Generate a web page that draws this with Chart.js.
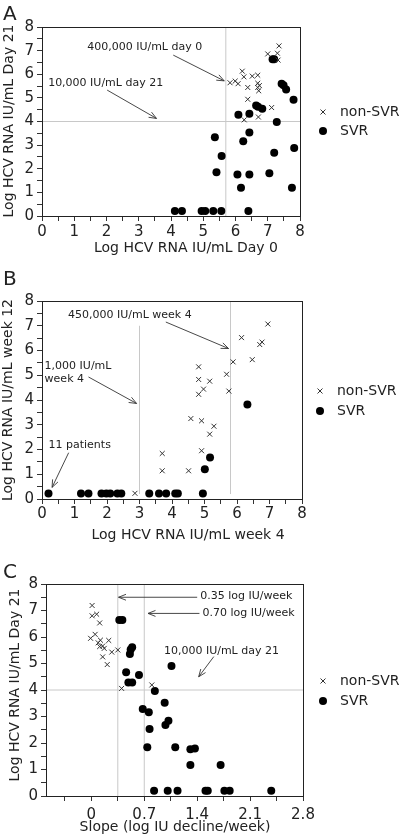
<!DOCTYPE html>
<html>
<head>
<meta charset="utf-8">
<script src="https://cdn.jsdelivr.net/npm/chart.js@4.4.1/dist/chart.umd.min.js"></script>
<style>
  body { margin: 0; background: #fff; width: 400px; height: 840px; overflow: hidden; position: relative; font-family: "DejaVu Sans", sans-serif; }
  .panel { position: absolute; left: 0; width: 400px; height: 280px; }
  .letter { position: absolute; left: 3px; font-size: 20px; line-height: 20px; color: #222; }
</style>
</head>
<body>
<div class="panel" style="top:0"><canvas id="chartA" width="400" height="280"></canvas></div>
<div class="panel" style="top:280px"><canvas id="chartB" width="400" height="280"></canvas></div>
<div class="panel" style="top:560px"><canvas id="chartC" width="400" height="280"></canvas></div>
<div class="letter" style="top:3px">A</div>
<div class="letter" style="top:268px">B</div>
<div class="letter" style="top:561px">C</div>

<script>
const FONT = '"DejaVu Sans", sans-serif';

// ================= DATA =================
// tick values (log axes every 0.5, labels on whole numbers)
const logTicks = [0, 0.5, 1, 1.5, 2, 2.5, 3, 3.5, 4, 4.5, 5, 5.5, 6, 6.5, 7, 7.5, 8];
const logLabels = [0, 1, 2, 3, 4, 5, 6, 7, 8];
const slopeTicks = [-0.35, 0, 0.35, 0.7, 1.05, 1.4, 1.75, 2.1, 2.45, 2.8];
const slopeLabels = [0, 0.7, 1.4, 2.1, 2.8];

// panel A: day 0 vs day 21
const aNonSvrX = [5.83, 5.99, 6.08, 6.21, 6.26, 6.38, 6.38, 6.27, 6.52, 6.69, 6.69, 6.74, 6.69, 6.72, 6.71, 7.00, 7.12, 7.30, 7.35, 7.32];
const aNonSvrY = [5.64, 5.71, 5.60, 6.13, 5.89, 5.44, 4.94, 4.07, 5.92, 5.96, 5.62, 5.52, 5.44, 5.30, 4.19, 6.86, 4.59, 6.89, 7.20, 6.60];
const aSvrX = [7.15, 7.20, 7.43, 7.49, 7.57, 7.80, 6.64, 6.70, 6.83, 6.09, 6.43, 7.28, 5.36, 6.43, 6.24, 5.57, 7.20, 7.82, 5.41, 6.06, 6.43, 7.05, 6.17, 7.75, 4.12, 4.34, 4.95, 5.06, 5.31, 5.56, 6.40];
const aSvrY = [6.64, 6.64, 5.60, 5.53, 5.35, 4.92, 4.68, 4.62, 4.54, 4.29, 4.33, 3.98, 3.33, 3.53, 3.16, 2.54, 2.68, 2.88, 1.85, 1.76, 1.76, 1.81, 1.20, 1.20, 0.21, 0.21, 0.21, 0.21, 0.21, 0.21, 0.21];
const aCutDay0 = [5.7];
const aCutDay21 = [4];

// panel B: week 4 vs week 12
const bNonSvrX = [2.86, 3.70, 3.70, 4.51, 4.58, 4.82, 4.82, 4.82, 4.97, 5.16, 4.91, 5.29, 5.16, 4.91, 5.68, 5.75, 5.88, 6.14, 6.47, 6.70, 6.77, 6.95];
const bNonSvrY = [0.23, 1.84, 1.14, 1.14, 3.25, 5.34, 4.83, 4.23, 4.44, 4.76, 3.16, 2.94, 2.62, 1.95, 5.04, 4.36, 5.54, 6.52, 5.63, 6.24, 6.34, 7.07];
const bSvrX = [0.20, 1.20, 1.43, 1.83, 1.98, 2.10, 2.32, 2.44, 3.30, 3.60, 3.82, 4.10, 4.18, 4.95, 5.01, 5.17, 6.32];
const bSvrY = [0.22, 0.22, 0.22, 0.22, 0.22, 0.22, 0.22, 0.22, 0.22, 0.22, 0.22, 0.22, 0.22, 0.22, 1.20, 1.68, 3.82];
const bCutLow = [3];
const bCutHigh = [5.8];

// panel C: slope vs day 21
const cNonSvrX = [0.01, 0.01, 0.07, 0.11, -0.01, 0.05, 0.12, 0.23, 0.11, 0.15, 0.17, 0.27, 0.35, 0.15, 0.21, 0.40, 0.80, 0.09];
const cNonSvrY = [7.19, 6.80, 6.86, 6.53, 5.95, 6.10, 5.88, 5.87, 5.64, 5.66, 5.57, 5.43, 5.51, 5.25, 4.96, 4.06, 4.19, 5.78];
const cSvrX = [0.37, 0.41, 0.52, 0.54, 0.51, 0.46, 0.49, 0.54, 0.63, 1.06, 0.84, 0.68, 0.76, 0.77, 0.74, 0.97, 1.02, 0.98, 1.11, 1.31, 1.37, 1.31, 1.71, 0.83, 1.01, 1.14, 1.51, 1.54, 1.76, 1.83, 2.38];
const cSvrY = [6.64, 6.64, 5.53, 5.61, 5.36, 4.67, 4.28, 4.28, 4.57, 4.91, 3.96, 3.28, 3.16, 2.53, 1.84, 3.52, 2.84, 2.68, 1.84, 1.76, 1.79, 1.17, 1.17, 0.20, 0.20, 0.20, 0.20, 0.20, 0.20, 0.20, 0.20];
const cCutSlope = [0.35, 0.70];
const cCutDay21 = [4];

// ================= HELPERS =================
function pts(xs, ys) {
    return xs.map((x, i) => ({ x: x, y: ys[i] }));
}

function crosses(label, xs, ys) {
    return {
        label: label, data: pts(xs, ys),
        pointStyle: 'crossRot', pointRadius: 3.5,
        borderColor: '#333', borderWidth: 1, backgroundColor: 'rgba(0,0,0,0)'
    };
}

function dots(label, xs, ys) {
    return {
        label: label, data: pts(xs, ys),
        pointStyle: 'circle', pointRadius: 4,
        borderColor: '#000', borderWidth: 0, backgroundColor: '#000'
    };
}

function refLine(x1, y1, x2, y2) {
    return {
        label: 'ref', data: [{ x: x1, y: y1 }, { x: x2, y: y2 }],
        showLine: true, pointRadius: 0, borderColor: '#c8c8c8', borderWidth: 1
    };
}

function axis(min, max, tickVals, labelVals, size, pad) {
    return {
        type: 'linear', min: min, max: max,
        afterBuildTicks: s => { s.ticks = tickVals.map(v => ({ value: v })); },
        afterFit: s => { if (s.isHorizontal()) s.height = size; else s.width = size; },
        ticks: {
            autoSkip: false, maxRotation: 0, padding: pad, color: '#222',
            font: { family: FONT, size: 15 },
            callback: v => labelVals.some(l => Math.abs(l - v) < 1e-6) ? String(v) : ''
        },
        grid: { drawOnChartArea: false, tickLength: 5, tickColor: '#333', color: '#333' },
        border: { display: false }
    };
}

function arrow(ctx, x1, y1, x2, y2) {
    const ang = Math.atan2(y2 - y1, x2 - x1), h = 8;
    ctx.beginPath();
    ctx.moveTo(x1, y1);
    ctx.lineTo(x2, y2);
    ctx.moveTo(x2 - h * Math.cos(ang - 0.38), y2 - h * Math.sin(ang - 0.38));
    ctx.lineTo(x2, y2);
    ctx.lineTo(x2 - h * Math.cos(ang + 0.38), y2 - h * Math.sin(ang + 0.38));
    ctx.stroke();
}

// frame, titles, notes, arrows and legend
const decor = {
    id: 'decor',
    afterDraw(chart, args, o) {
        const ctx = chart.ctx, a = chart.chartArea;
        const sx = chart.scales.x, sy = chart.scales.y;
        ctx.save();

        ctx.strokeStyle = '#222';
        ctx.lineWidth = 1;
        ctx.strokeRect(a.left + 0.5, a.top + 0.5, a.right - a.left, a.bottom - a.top);

        ctx.fillStyle = '#222';
        ctx.textBaseline = 'middle';
        ctx.font = '14px ' + FONT;
        ctx.textAlign = 'center';
        ctx.fillText(o.xTitle, o.xTitlePos[0], o.xTitlePos[1]);
        ctx.save();
        ctx.translate(o.yTitlePos[0], o.yTitlePos[1]);
        ctx.rotate(-Math.PI / 2);
        ctx.fillText(o.yTitle, 0, 0);
        ctx.restore();

        ctx.font = '11px ' + FONT;
        ctx.textAlign = 'left';
        o.notes.forEach(n => {
            ctx.fillText(n.text, sx.getPixelForValue(n.at[0]), sy.getPixelForValue(n.at[1]));
        });
        ctx.strokeStyle = '#333';
        ctx.lineWidth = 0.9;
        o.arrows.forEach(r => {
            arrow(ctx, sx.getPixelForValue(r[0]), sy.getPixelForValue(r[1]),
                sx.getPixelForValue(r[2]), sy.getPixelForValue(r[3]));
        });

        // legend
        const lx = o.legend[0], ly = o.legend[1];
        ctx.strokeStyle = '#333';
        ctx.lineWidth = 1;
        ctx.beginPath();
        ctx.moveTo(lx - 2.5, ly - 2.5); ctx.lineTo(lx + 2.5, ly + 2.5);
        ctx.moveTo(lx - 2.5, ly + 2.5); ctx.lineTo(lx + 2.5, ly - 2.5);
        ctx.stroke();
        ctx.fillStyle = '#000';
        ctx.beginPath();
        ctx.arc(lx, ly + o.legend[2], 4, 0, Math.PI * 2);
        ctx.fill();
        ctx.fillStyle = '#222';
        ctx.font = '14px ' + FONT;
        ctx.fillText('non-SVR', lx + 17, ly);
        ctx.fillText('SVR', lx + 17, ly + o.legend[2]);

        ctx.restore();
    }
};

function makeChart(id, datasets, xAxis, yAxis, pad, deco) {
    return new Chart(document.getElementById(id), {
        type: 'scatter',
        data: { datasets: datasets },
        options: {
            responsive: false,
            animation: false,
            devicePixelRatio: 1,
            layout: { padding: pad },
            scales: { x: xAxis, y: yAxis },
            plugins: { legend: { display: false }, tooltip: { enabled: false }, decor: deco }
        },
        plugins: [decor]
    });
}

// ================= PANEL A =================
makeChart('chartA',
    [
        crosses('non-SVR', aNonSvrX, aNonSvrY),
        dots('SVR', aSvrX, aSvrY),
        refLine(aCutDay0[0], 0, aCutDay0[0], 8),
        refLine(0, aCutDay21[0], 8, aCutDay21[0])
    ],
    axis(0, 8, logTicks, logLabels, 64, 2),
    axis(0, 8, logTicks, logLabels, 42, 3),
    { left: 0, top: 27, right: 100, bottom: 0 },
    {
        xTitle: 'Log HCV RNA IU/mL Day 0', xTitlePos: [186, 248],
        yTitle: 'Log HCV RNA IU/mL Day 21', yTitlePos: [9, 121],
        notes: [
            { text: '400,000 IU/mL day 0', at: [1.40, 7.16] },
            { text: '10,000 IU/mL day 21', at: [0.19, 5.61] }
        ],
        arrows: [[4.07, 6.81, 5.65, 5.72], [2.02, 5.33, 3.55, 4.13]],
        legend: [323, 112, 19]
    });

// ================= PANEL B =================
makeChart('chartB',
    [
        crosses('non-SVR', bNonSvrX, bNonSvrY),
        dots('SVR', bSvrX, bSvrY),
        refLine(bCutLow[0], 0.2, bCutLow[0], 7.0),
        refLine(bCutHigh[0], 0.2, bCutHigh[0], 8)
    ],
    axis(0, 8, logTicks, logLabels, 61, 1),
    axis(0, 8, logTicks, logLabels, 42, 3),
    { left: 0, top: 21, right: 98, bottom: 0 },
    {
        xTitle: 'Log HCV RNA IU/mL week 4', xTitlePos: [188, 255],
        yTitle: 'Log HCV RNA IU/mL week 12', yTitlePos: [8, 120],
        notes: [
            { text: '450,000 IU/mL week 4', at: [0.80, 7.42] },
            { text: '1,000 IU/mL', at: [0.08, 5.36] },
            { text: 'week 4', at: [0.08, 4.83] },
            { text: '11 patients', at: [0.20, 2.18] }
        ],
        arrows: [[3.81, 7.15, 5.74, 6.08], [1.43, 4.93, 2.91, 3.86], [0.82, 1.87, 0.31, 0.47]],
        legend: [320, 111, 20]
    });

// ================= PANEL C =================
makeChart('chartC',
    [
        crosses('non-SVR', cNonSvrX, cNonSvrY),
        dots('SVR', cSvrX, cSvrY),
        refLine(cCutSlope[0], 0, cCutSlope[0], 8),
        refLine(cCutSlope[1], 0, cCutSlope[1], 8),
        refLine(-0.6, cCutDay21[0], 2.8, cCutDay21[0])
    ],
    axis(-0.6, 2.8, slopeTicks, slopeLabels, 44, 5),
    axis(0, 8, logTicks, logLabels, 46, 3),
    { left: 0, top: 24, right: 97, bottom: 0 },
    {
        xTitle: 'Slope (log IU decline/week)', xTitlePos: [175, 267],
        yTitle: 'Log HCV RNA IU/mL Day 21', yTitlePos: [15, 125],
        notes: [
            { text: '0.35 log IU/week', at: [1.44, 7.54] },
            { text: '0.70 log IU/week', at: [1.47, 6.89] },
            { text: '10,000 IU/mL day 21', at: [0.96, 5.48] }
        ],
        arrows: [[1.40, 7.50, 0.36, 7.50], [1.43, 6.89, 0.75, 6.89], [1.62, 5.26, 1.42, 4.50]],
        legend: [323, 121, 20]
    });
</script>
</body>
</html>
